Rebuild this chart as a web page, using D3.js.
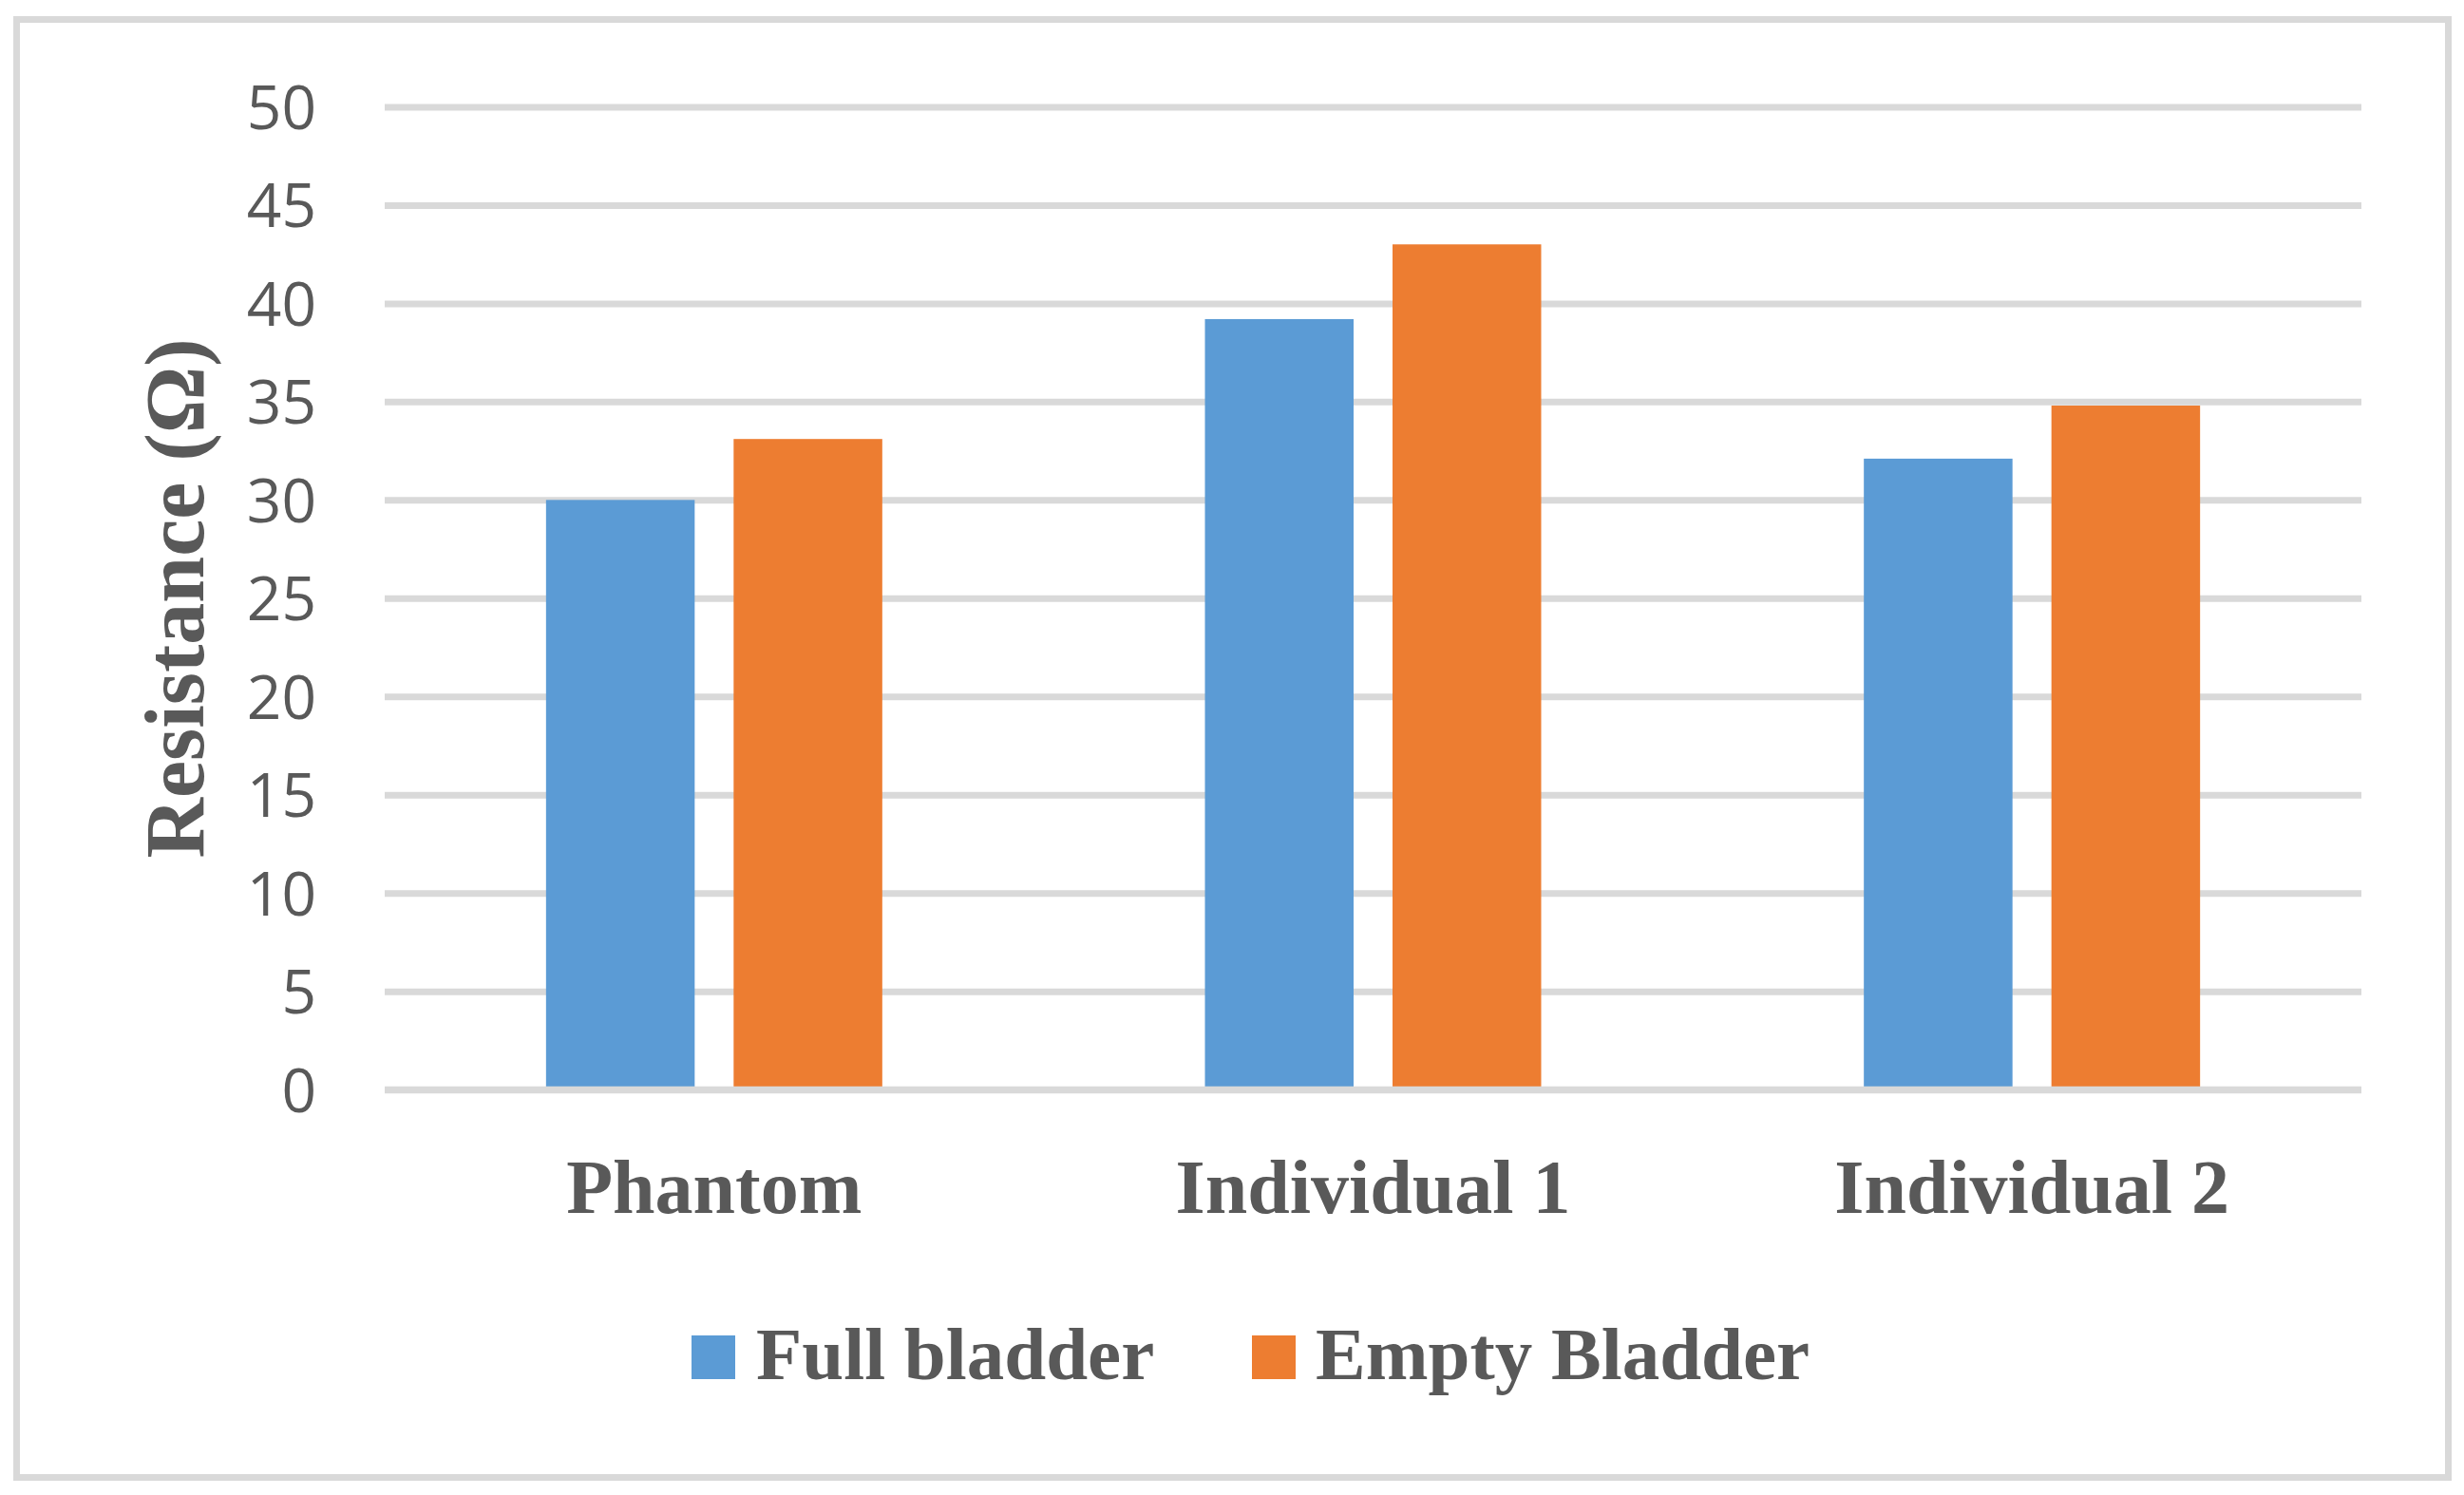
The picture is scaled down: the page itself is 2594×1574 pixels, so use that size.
<!DOCTYPE html>
<html>
<head>
<meta charset="utf-8">
<script src="https://cdn.jsdelivr.net/npm/d3@7/dist/d3.min.js"></script>
<style>
  html, body { margin: 0; padding: 0; background: #ffffff; }
  svg { display: block; }
</style>
</head>
<body>
<svg id="chart" width="2594" height="1574"></svg>
<script>
// ---- data ----
const categories = ["Phantom", "Individual 1", "Individual 2"];
const seriesNames = ["Full bladder", "Empty Bladder"];
const fullBladder = [30.0, 39.2, 32.1];
const emptyBladder = [33.1, 43.0, 34.8];
const yTicks = [0, 5, 10, 15, 20, 25, 30, 35, 40, 45, 50];
const yTitle = "Resistance (\u03A9)";

const seriesValues = [fullBladder, emptyBladder];
const colors = ["#5B9BD5", "#ED7D31"];
const textColor = "#595959";
const gridColor = "#D9D9D9";

const svg = d3.select("#chart");
svg.append("rect").attr("x", 0).attr("y", 0).attr("width", 2594).attr("height", 1574).attr("fill", "#ffffff");

// outer border
svg.append("rect")
  .attr("x", 17.5).attr("y", 20.5)
  .attr("width", 2560).attr("height", 1535)
  .attr("fill", "none")
  .attr("stroke", gridColor)
  .attr("stroke-width", 7);

const plotLeft = 405, plotRight = 2486, plotTop = 112.4, plotBottom = 1147.3;

const y = d3.scaleLinear().domain([0, 50]).range([plotBottom, plotTop]);
const x0 = d3.scaleBand().domain(categories).range([plotLeft, plotRight])
  .paddingInner(0.4897).paddingOuter(0.4897 / 2);
const x1 = d3.scaleBand().domain(seriesNames).range([0, x0.bandwidth()])
  .paddingInner(0.2076).paddingOuter(0);

// y axis with gridlines
const yAxis = d3.axisLeft(y)
  .tickValues(yTicks)
  .tickSizeInner(-(plotRight - plotLeft))
  .tickSizeOuter(0)
  .tickPadding(72)
  .tickFormat(d3.format("d"));

const gy = svg.append("g")
  .attr("transform", `translate(${plotLeft},0)`)
  .call(yAxis);
gy.select(".domain").remove();
gy.selectAll(".tick line").attr("stroke", gridColor).attr("stroke-width", 7);
gy.selectAll(".tick text")
  .attr("fill", textColor)
  .attr("font-family", "'Open Sans', sans-serif")
  .attr("font-size", 64)
  .attr("dy", "0.36em");

// bars
const rows = categories.map((c, i) => ({
  category: c,
  values: seriesNames.map((s, j) => ({ series: s, value: seriesValues[j][i], color: colors[j] }))
}));

const groups = svg.append("g").selectAll("g")
  .data(rows)
  .join("g")
  .attr("transform", d => `translate(${x0(d.category)},0)`);

groups.selectAll("rect")
  .data(d => d.values)
  .join("rect")
  .attr("x", d => x1(d.series))
  .attr("y", d => y(d.value))
  .attr("width", x1.bandwidth())
  .attr("height", d => y(0) - y(d.value))
  .attr("fill", d => d.color);

// zero line on top of bars
svg.append("line")
  .attr("x1", plotLeft).attr("x2", plotRight)
  .attr("y1", y(0)).attr("y2", y(0))
  .attr("stroke", gridColor).attr("stroke-width", 7);

// category labels
svg.append("g").selectAll("text")
  .data(categories)
  .join("text")
  .attr("x", d => x0(d) + x0.bandwidth() / 2)
  .attr("y", 1277)
  .attr("text-anchor", "middle")
  .attr("fill", textColor)
  .attr("font-family", "'Liberation Serif', serif")
  .attr("font-weight", "bold")
  .attr("font-size", 80)
  .text(d => d);

// y axis title
svg.append("text")
  .attr("transform", `translate(214,630) rotate(-90)`)
  .attr("text-anchor", "middle")
  .attr("fill", textColor)
  .attr("font-family", "'Liberation Serif', serif")
  .attr("font-weight", "bold")
  .attr("font-size", 88)
  .text(yTitle);

// legend
const legendItems = [
  { name: seriesNames[0], color: colors[0], sx: 728, tx: 796 },
  { name: seriesNames[1], color: colors[1], sx: 1318, tx: 1385 }
];
const lg = svg.append("g");
lg.selectAll("rect")
  .data(legendItems)
  .join("rect")
  .attr("x", d => d.sx).attr("y", 1406)
  .attr("width", 46).attr("height", 46)
  .attr("fill", d => d.color);
lg.selectAll("text")
  .data(legendItems)
  .join("text")
  .attr("x", d => d.tx).attr("y", 1452)
  .attr("fill", textColor)
  .attr("font-family", "'Liberation Serif', serif")
  .attr("font-weight", "bold")
  .attr("font-size", 79)
  .text(d => d.name);
</script>
</body>
</html>
